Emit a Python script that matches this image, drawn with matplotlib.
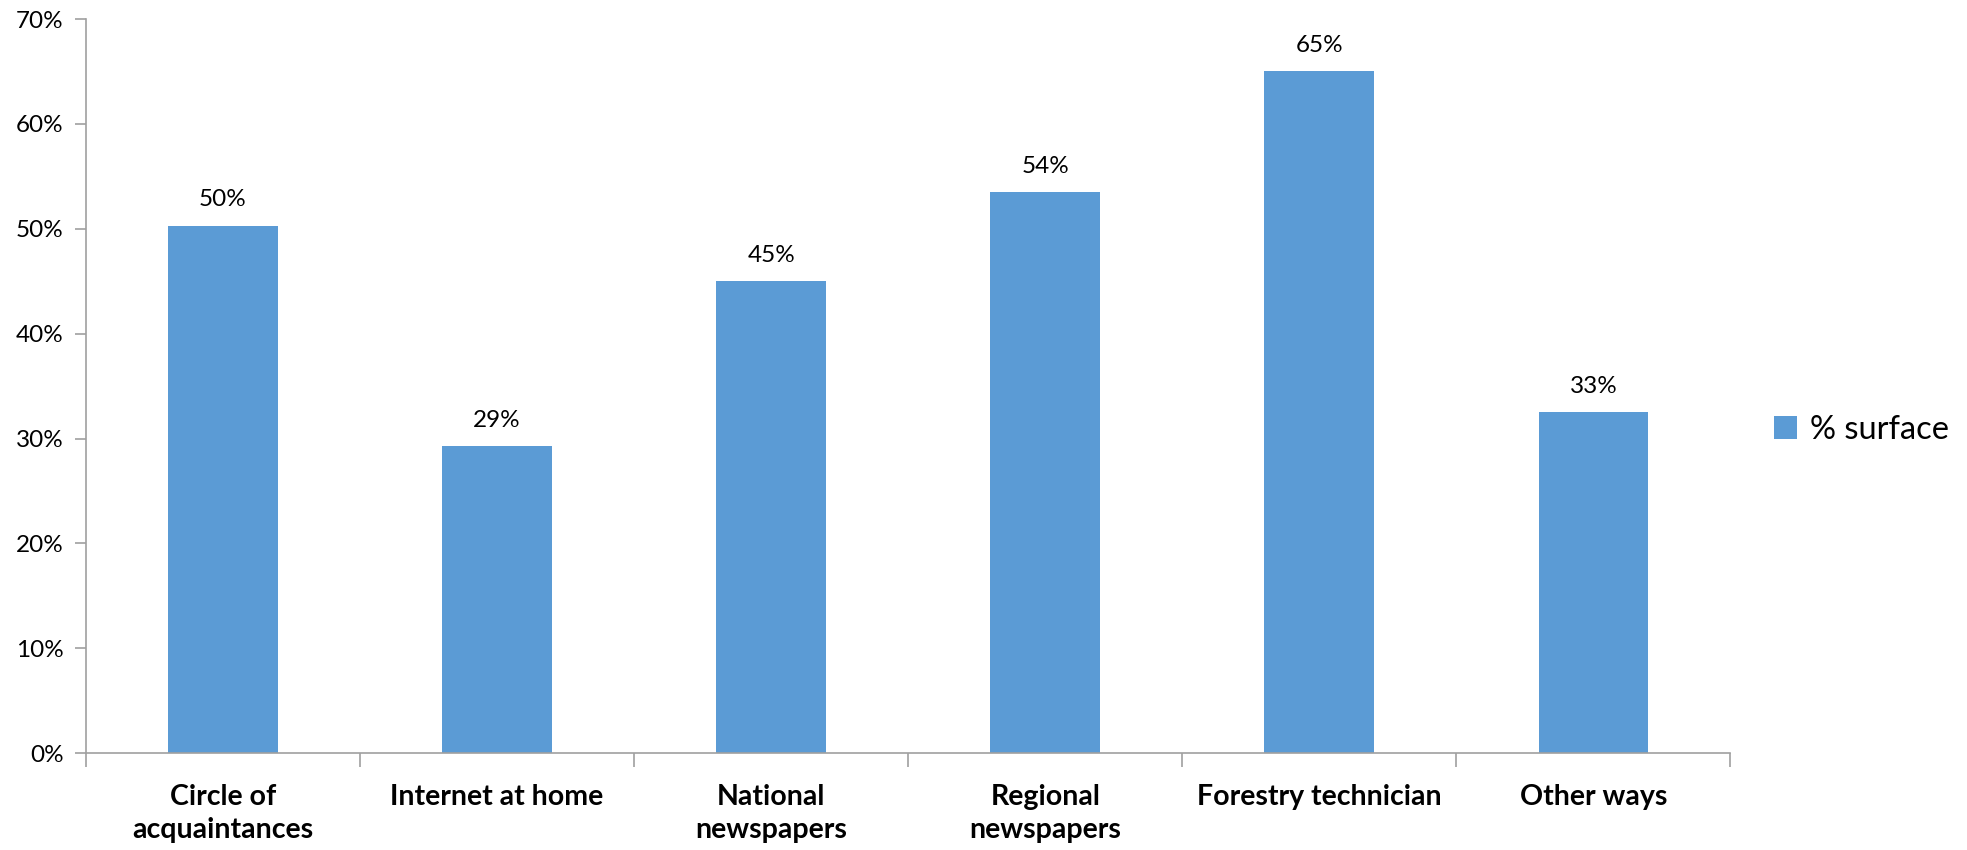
import numpy as np
import matplotlib.pyplot as plt
from matplotlib.ticker import FuncFormatter

# Data
categories = ["Circle of\nacquaintances", "Internet at home", "National\nnewspapers",
              "Regional\nnewspapers", "Forestry technician", "Other ways"]
surface = [50.3, 29.3, 45.0, 53.5, 65.0, 32.5]
value_labels = ["50%", "29%", "45%", "54%", "65%", "33%"]
y_ticks = [0, 10, 20, 30, 40, 50, 60, 70]

bar_color = "#5B9BD5"
axis_color = "#A0A0A0"

fig = plt.figure(figsize=(19.67, 8.5), dpi=100)
ax = fig.add_axes([0.0437, 0.114, 0.836, 0.8636])

x = np.arange(len(categories))
bars = ax.bar(x, surface, width=0.4, color=bar_color, label="% surface")

for rect, lab in zip(bars, value_labels):
    ax.annotate(lab, (rect.get_x() + rect.get_width() / 2, rect.get_height()),
                xytext=(0, 11), textcoords="offset points", ha="center", va="bottom",
                fontsize=17.5, family="Lato")

ax.set_xlim(-0.5, len(categories) - 0.5)
ax.set_ylim(0, 70)
ax.set_yticks(y_ticks)
ax.yaxis.set_major_formatter(FuncFormatter(lambda v, p: f"{v:.0f}%"))

# category labels centred, ticks at category boundaries
ax.set_xticks(np.arange(-0.5, len(categories)), minor=False)
ax.set_xticklabels([])
ax.set_xticks(x, minor=True)
ax.set_xticklabels(categories, minor=True, fontsize=20.5, fontweight="bold", family="Lato",
                   linespacing=1.35)
ax.tick_params(axis="x", which="minor", length=0, pad=22)
ax.tick_params(axis="x", which="major", length=10, width=1.2, color=axis_color, direction="out")
ax.tick_params(axis="y", length=8, width=1.2, color=axis_color, labelsize=17.5, pad=8)
for t in ax.get_yticklabels():
    t.set_family("Lato")

for side in ["top", "right"]:
    ax.spines[side].set_visible(False)
for side in ["left", "bottom"]:
    ax.spines[side].set_color(axis_color)
    ax.spines[side].set_linewidth(1.2)

leg = fig.legend(loc="center left", bbox_to_anchor=(0.902, 0.494), frameon=False,
                 prop={"family": "Lato", "size": 23.5}, handlelength=0.7, handleheight=0.7,
                 handletextpad=0.4, borderpad=0, borderaxespad=0)

plt.savefig("out.png", dpi=100)
